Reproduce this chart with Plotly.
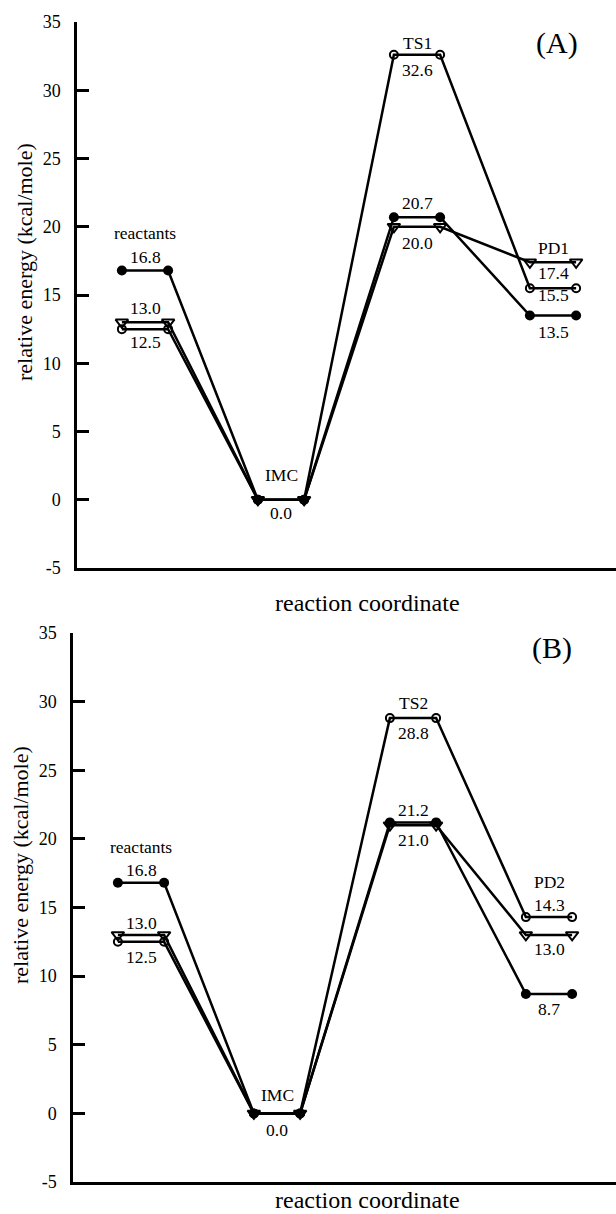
import plotly.graph_objects as go

# ---------------- data ----------------
stages_A = ["reactants", "IMC", "TS1", "PD1"]
filled_A = [16.8, 0.0, 20.7, 13.5]   # filled circles
open_A = [12.5, 0.0, 32.6, 15.5]     # open circles
tri_A = [13.0, 0.0, 20.0, 17.4]      # open down-triangles

stages_B = ["reactants", "IMC", "TS2", "PD2"]
filled_B = [16.8, 0.0, 21.2, 8.7]
open_B = [12.5, 0.0, 28.8, 14.3]
tri_B = [13.0, 0.0, 21.0, 13.0]

ytick_vals = [-5, 0, 5, 10, 15, 20, 25, 30, 35]
ytick_text = ["-5", "0", "5", "10", "15", "20", "25", "30", "35"]

panel_tags = ["(A)", "(B)"]
x_title = "reaction coordinate"
y_title = "relative energy (kcal/mole)"

# ---------------- label placement (series key, stage index, pixel shift) ----------------
value_labels_A = [("f", 0, 13), ("t", 0, 14), ("o", 0, -13),
                  ("f", 1, -13),
                  ("o", 2, -15), ("f", 2, 14), ("t", 2, -16),
                  ("t", 3, -11), ("o", 3, -7), ("f", 3, -17)]
name_labels_A = [("f", 0, 37), ("f", 1, 25), ("o", 2, 12), ("t", 3, 14)]

value_labels_B = [("f", 0, 13), ("t", 0, 12), ("o", 0, -15),
                  ("f", 1, -17),
                  ("o", 2, -15), ("f", 2, 12), ("t", 2, -15),
                  ("o", 3, 12), ("t", 3, -14), ("f", 3, -15)]
name_labels_B = [("f", 0, 36), ("f", 1, 18), ("o", 2, 15), ("o", 3, 35)]

FONT = "Liberation Serif"
H = 1214.0
W = 616.0
HALF = 0.17  # half width of a level, in stage units

panels = [
    dict(stages=stages_A, series={"f": filled_A, "o": open_A, "t": tri_A},
         vlabels=value_labels_A, nlabels=name_labels_A,
         xa="x", ya="y", left_px=77, top_px=22, bot_px=568,
         tag_px=(557, 43), ytitle_px=(25, 262), xtitle_px=(367, 603)),
    dict(stages=stages_B, series={"f": filled_B, "o": open_B, "t": tri_B},
         vlabels=value_labels_B, nlabels=name_labels_B,
         xa="x2", ya="y2", left_px=73, top_px=633, bot_px=1182,
         tag_px=(552, 648), ytitle_px=(20, 865), xtitle_px=(367, 1200)),
]

styles = {
    "o": dict(symbol="circle-open", size=8, line=dict(width=2, color="black")),
    "t": dict(symbol="triangle-down-open", size=11, line=dict(width=2, color="black")),
    "f": dict(symbol="circle", size=10, color="black"),
}

fig = go.Figure()
annotations = []

for p in panels:
    for key in ["o", "t", "f"]:
        vals = p["series"][key]
        xs, ys = [], []
        for i, v in enumerate(vals):
            c = i + 0.5
            xs += [c - HALF, c + HALF]
            ys += [v, v]
        fig.add_trace(go.Scatter(
            x=xs, y=ys, mode="lines+markers", xaxis=p["xa"], yaxis=p["ya"],
            line=dict(color="black", width=2.5),
            marker=styles[key], showlegend=False, hoverinfo="skip"))
    for key, i, shift in p["vlabels"]:
        v = p["series"][key][i]
        annotations.append(dict(
            x=i + 0.5, y=v, xref=p["xa"], yref=p["ya"], text=f"{v:.1f}",
            showarrow=False, yshift=shift, yanchor="middle",
            font=dict(family=FONT, size=17.5, color="black")))
    for key, i, shift in p["nlabels"]:
        v = p["series"][key][i]
        annotations.append(dict(
            x=i + 0.5, y=v, xref=p["xa"], yref=p["ya"], text=p["stages"][i],
            showarrow=False, yshift=shift, yanchor="middle",
            font=dict(family=FONT, size=17.5, color="black")))

for p, tag in zip(panels, panel_tags):
    annotations.append(dict(
        x=p["tag_px"][0] / W, y=1 - p["tag_px"][1] / H, xref="paper", yref="paper",
        text=tag, showarrow=False, xanchor="center", yanchor="middle",
        font=dict(family=FONT, size=30, color="black")))
    annotations.append(dict(
        x=p["ytitle_px"][0] / W, y=1 - p["ytitle_px"][1] / H, xref="paper", yref="paper",
        text=y_title, showarrow=False, textangle=-90, xanchor="center", yanchor="middle",
        font=dict(family=FONT, size=22, color="black")))
    annotations.append(dict(
        x=p["xtitle_px"][0] / W, y=1 - p["xtitle_px"][1] / H, xref="paper", yref="paper",
        text=x_title, showarrow=False, xanchor="center", yanchor="middle",
        font=dict(family=FONT, size=24, color="black")))

layout = dict(
    template="none",
    width=616, height=1214, autosize=False,
    margin=dict(l=0, r=0, t=0, b=0, pad=0),
    paper_bgcolor="white", plot_bgcolor="white",
    font=dict(family=FONT, color="black"),
    annotations=annotations,
)

for p in panels:
    xname = "xaxis" if p["xa"] == "x" else "xaxis2"
    yname = "yaxis" if p["ya"] == "y" else "yaxis2"
    layout[xname] = dict(
        domain=[p["left_px"] / W, 1.0], range=[0, (W - p["left_px"]) / 136.0],
        showline=True, linecolor="black", linewidth=2.5, showgrid=False,
        zeroline=False, showticklabels=False, ticks="", anchor=p["ya"],
        automargin=False, fixedrange=True)
    layout[yname] = dict(
        domain=[1 - p["bot_px"] / H, 1 - p["top_px"] / H], range=[-5, 35],
        showline=True, linecolor="black", linewidth=2.5, showgrid=False, zeroline=False,
        tickvals=ytick_vals, ticktext=ytick_text, ticks="inside", ticklen=12,
        tickwidth=2.5, tickcolor="black", ticklabelstandoff=10,
        tickfont=dict(family=FONT, size=18, color="black"), anchor=p["xa"],
        automargin=False, fixedrange=True)

fig.update_layout(**layout)

fig.write_html("out.html", config={"displayModeBar": False},
               post_script="document.body.style.margin='0';document.body.style.overflow='hidden';")
